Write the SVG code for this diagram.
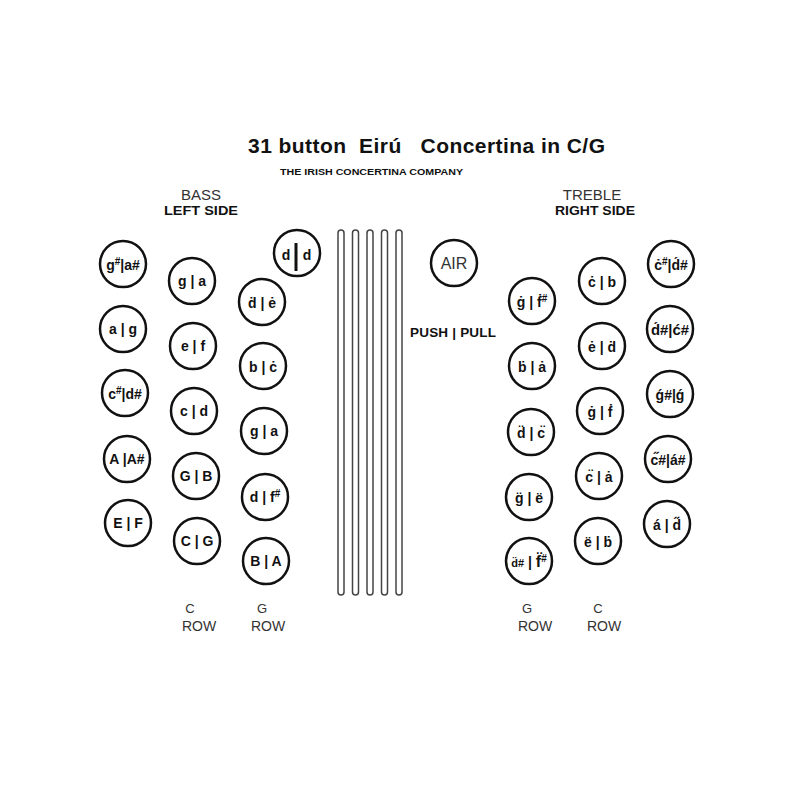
<svg xmlns="http://www.w3.org/2000/svg" width="800" height="800" viewBox="0 0 800 800">
<style>
  .btn circle { fill: #fff; stroke: #111; stroke-width: 2.5; }
  .lbl { font-family: "Liberation Sans", Arial, sans-serif; font-weight: bold; font-size: 14px; fill: #111; text-anchor: middle; }
  .sup { font-size: 10px; }
  .hdr { font-family: "Liberation Sans", Arial, sans-serif; fill: #333; text-anchor: middle; }
  .bold { font-weight: bold; fill: #111; }
  .tube { fill: #fff; stroke: #444; stroke-width: 1.5; }
</style>
<rect width="800" height="800" fill="#fff"/>

<g id="title">
  <text x="248" y="153" font-family="Liberation Sans, Arial, sans-serif" font-weight="bold" font-size="21" fill="#111" xml:space="preserve" textLength="357" lengthAdjust="spacing">31 button  Eirú   Concertina in C/G</text>
  <text x="280" y="175" font-family="Liberation Sans, Arial, sans-serif" font-weight="bold" font-size="9" fill="#111" textLength="183" lengthAdjust="spacingAndGlyphs">THE IRISH CONCERTINA COMPANY</text>
</g>
<g id="headers">
  <text class="hdr" x="201" y="200" font-size="15">BASS</text>
  <text class="hdr bold" x="201" y="215" font-size="13" textLength="74" lengthAdjust="spacingAndGlyphs">LEFT SIDE</text>
  <text class="hdr" x="592" y="200" font-size="15">TREBLE</text>
  <text class="hdr bold" x="595" y="215" font-size="13" textLength="80" lengthAdjust="spacingAndGlyphs">RIGHT SIDE</text>
  <text class="hdr bold" x="453" y="337" font-size="13.5" xml:space="preserve" textLength="86" lengthAdjust="spacing">PUSH | PULL</text>
</g>

<g id="bellows">
  <rect class="tube" x="338" y="230" width="6" height="365" rx="3"/>
  <rect class="tube" x="352.5" y="230" width="6" height="365" rx="3"/>
  <rect class="tube" x="367" y="230" width="6" height="365" rx="3"/>
  <rect class="tube" x="381.5" y="230" width="6" height="365" rx="3"/>
  <rect class="tube" x="396" y="230" width="6" height="365" rx="3"/>
</g>

<g id="air" class="btn"><circle cx="454" cy="263" r="23"/><text class="hdr" x="454" y="269" font-size="16">AIR</text></g>

<!-- Left side, outer column -->
<g id="L1" class="btn"><circle cx="123" cy="264" r="23"/><text class="lbl" x="123" y="270">g<tspan class="sup" dy="-5">#</tspan><tspan dy="5">|a#</tspan></text></g>
<g id="L2" class="btn"><circle cx="123" cy="329" r="23"/><text class="lbl" x="123" y="334" xml:space="preserve">a | g</text></g>
<g id="L3" class="btn"><circle cx="125" cy="393" r="23"/><text class="lbl" x="125" y="399">c<tspan class="sup" dy="-5">#</tspan><tspan dy="5">|d#</tspan></text></g>
<g id="L4" class="btn"><circle cx="127" cy="459" r="23"/><text class="lbl" x="127" y="464" xml:space="preserve">A |A#</text></g>
<g id="L5" class="btn"><circle cx="128" cy="523" r="23"/><text class="lbl" x="128" y="528" xml:space="preserve">E | F</text></g>

<!-- Left side, C row -->
<g id="LC1" class="btn"><circle cx="192" cy="281" r="23"/><text class="lbl" x="192" y="286" xml:space="preserve">g | a</text></g>
<g id="LC2" class="btn"><circle cx="193" cy="346" r="23"/><text class="lbl" x="193" y="351" xml:space="preserve">e | f</text></g>
<g id="LC3" class="btn"><circle cx="194" cy="411" r="23"/><text class="lbl" x="194" y="416" xml:space="preserve">c | d</text></g>
<g id="LC4" class="btn"><circle cx="196" cy="476" r="23"/><text class="lbl" x="196" y="481" xml:space="preserve">G | B</text></g>
<g id="LC5" class="btn"><circle cx="197" cy="541" r="23"/><text class="lbl" x="197" y="546" xml:space="preserve">C | G</text></g>

<!-- Left side, G row -->
<g id="LG0" class="btn"><circle cx="297" cy="253" r="23"/><text class="lbl" x="286" y="260">d</text><line x1="296" y1="243" x2="296" y2="271" stroke="#111" stroke-width="3"/><text class="lbl" x="307" y="260">d</text></g>
<g id="LG1" class="btn"><circle cx="262" cy="302" r="23"/><text class="lbl" x="262" y="308" xml:space="preserve">d&#x307; | e&#x307;</text></g>
<g id="LG2" class="btn"><circle cx="263" cy="366" r="23"/><text class="lbl" x="263" y="372" xml:space="preserve">b | c&#x307;</text></g>
<g id="LG3" class="btn"><circle cx="264" cy="431" r="23"/><text class="lbl" x="264" y="436" xml:space="preserve">g | a</text></g>
<g id="LG4" class="btn"><circle cx="265" cy="497" r="23"/><text class="lbl" x="265" y="502" xml:space="preserve">d | f<tspan class="sup" dy="-5">#</tspan></text></g>
<g id="LG5" class="btn"><circle cx="266" cy="561" r="23"/><text class="lbl" x="266" y="566" xml:space="preserve">B | A</text></g>

<!-- Right side, G row -->
<g id="RG1" class="btn"><circle cx="532" cy="301" r="23"/><text class="lbl" x="532" y="307" xml:space="preserve">g&#x307; | f&#x307;<tspan class="sup" dy="-5">#</tspan></text></g>
<g id="RG2" class="btn"><circle cx="532" cy="366" r="23"/><text class="lbl" x="532" y="372" xml:space="preserve">b&#x307; | a&#x307;</text></g>
<g id="RG3" class="btn"><circle cx="531" cy="432" r="23"/><text class="lbl" x="531" y="438" xml:space="preserve">d&#x308; | c&#x308;</text></g>
<g id="RG4" class="btn"><circle cx="529" cy="497" r="23"/><text class="lbl" x="529" y="503" xml:space="preserve">g&#x308; | e&#x308;</text></g>
<g id="RG5" class="btn"><circle cx="529" cy="561" r="23"/><text class="lbl" x="529" y="567" xml:space="preserve"><tspan font-size="11">d&#x308;#</tspan> | <tspan font-size="16">f&#x308;</tspan><tspan class="sup" dy="-5">#</tspan></text></g>

<!-- Right side, C row -->
<g id="RC1" class="btn"><circle cx="602" cy="281" r="23"/><text class="lbl" x="602" y="287" xml:space="preserve">c&#x307; | b</text></g>
<g id="RC2" class="btn"><circle cx="602" cy="346" r="23"/><text class="lbl" x="602" y="352" xml:space="preserve">e&#x307; | d&#x307;</text></g>
<g id="RC3" class="btn"><circle cx="600" cy="411" r="23"/><text class="lbl" x="600" y="417" xml:space="preserve">g&#x307; | f&#x307;</text></g>
<g id="RC4" class="btn"><circle cx="599" cy="476" r="23"/><text class="lbl" x="599" y="482" xml:space="preserve">c&#x308; | a&#x307;</text></g>
<g id="RC5" class="btn"><circle cx="598" cy="541" r="23"/><text class="lbl" x="598" y="547" xml:space="preserve">e&#x308; | b&#x307;</text></g>

<!-- Right side, outer column -->
<g id="R1" class="btn"><circle cx="671" cy="264" r="23"/><text class="lbl" x="671" y="270">c&#x307;<tspan class="sup" dy="-5">#</tspan><tspan dy="5">|d&#x301;#</tspan></text></g>
<g id="R2" class="btn"><circle cx="670" cy="329" r="23"/><text class="lbl" x="670" y="335" textLength="38" lengthAdjust="spacingAndGlyphs">d&#x301;#|c&#x301;#</text></g>
<g id="R3" class="btn"><circle cx="670" cy="394" r="23"/><text class="lbl" x="670" y="400" xml:space="preserve">g&#x301;#|g&#x301;</text></g>
<g id="R4" class="btn"><circle cx="668" cy="459" r="23"/><text class="lbl" x="668" y="465" font-size="13">c&#x30B;#|a&#x301;#</text></g>
<g id="R5" class="btn"><circle cx="667" cy="524" r="23"/><text class="lbl" x="667" y="530" xml:space="preserve">a&#x301; | d&#x30B;</text></g>

<g id="rows">
  <text class="hdr" x="190" y="613" font-size="13">C</text>
  <text class="hdr" x="199" y="631" font-size="14">ROW</text>
  <text class="hdr" x="262" y="613" font-size="13">G</text>
  <text class="hdr" x="268" y="631" font-size="14">ROW</text>
  <text class="hdr" x="527" y="613" font-size="13">G</text>
  <text class="hdr" x="535" y="631" font-size="14">ROW</text>
  <text class="hdr" x="598" y="613" font-size="13">C</text>
  <text class="hdr" x="604" y="631" font-size="14">ROW</text>
</g>
</svg>
